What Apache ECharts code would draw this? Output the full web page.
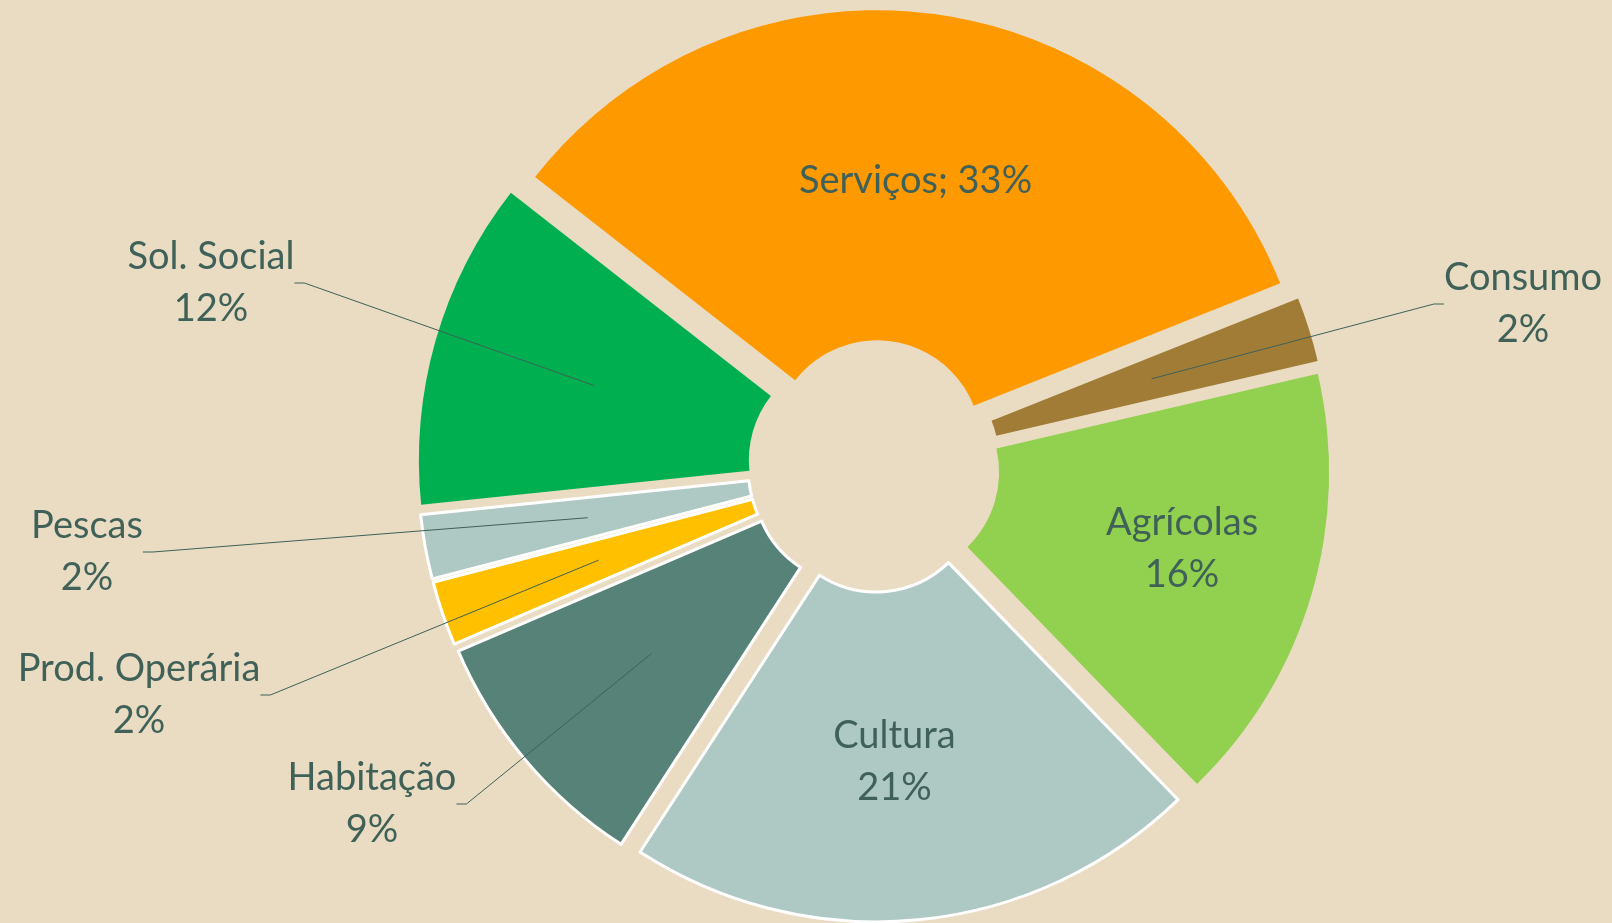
<!DOCTYPE html>
<html>
<head>
<meta charset="utf-8">
<script src="https://cdn.jsdelivr.net/npm/echarts@6/dist/echarts.min.js"></script>
<style>
  html, body { margin: 0; padding: 0; background: #EADCC2; }
  #grafico { width: 1612px; height: 923px; }
</style>
</head>
<body>
<div id="grafico"></div>
<script>
// categorias e percentagens
const categorias = ['Serviços', 'Consumo', 'Agrícolas', 'Cultura', 'Habitação', 'Prod. Operária', 'Pescas', 'Sol. Social']
const valores = [33.4, 2.4, 16.4, 21.4, 9.4, 2.4, 2.4, 12.2]
const cores = ['#FF9900', '#A17C37', '#92D050', '#AEC8C4', '#578277', '#FFC000', '#AEC8C4', '#00B050']
const bordaBranca = [false, false, false, true, true, true, true, false]
// quais rótulos ficam dentro da fatia
const rotuloDentro = [true, false, true, true, false, false, false, false]

const corTexto = '#3F6158'
const centro = [874, 466]
// posição (centro do texto) dos rótulos exteriores
const posRotulo = { 1: [1523, 304], 4: [372, 804], 5: [139, 695], 6: [87, 552], 7: [211, 283] }
// pequeno acerto dos rótulos interiores
const ajusteDentro = { 0: [0, 6], 2: [26, 0], 3: [-8, 3] }

const fonte = { fontFamily: 'Lato', fontSize: 38, lineHeight: 52, color: corTexto }

function pct(p) {
  return Math.round(p.percent) + '%'
}

let myChart = echarts.init(document.getElementById('grafico'))
myChart.setOption({
  backgroundColor: '#EADCC2',
  animation: false,
  series: [
    {
      // anel principal
      type: 'pie',
      center: centro,
      radius: [104, 434],
      startAngle: 142,
      selectedMode: 'multiple',
      selectedOffset: 22,
      avoidLabelOverlap: false,
      emphasis: { disabled: true },
      label: Object.assign({
        position: 'inside',
        formatter: function (p) {
          return p.dataIndex === 0 ? p.name + '; ' + pct(p) : p.name + '\n' + pct(p)
        }
      }, fonte),
      labelLine: { show: false },
      labelLayout: function (params) {
        let a = ajusteDentro[params.dataIndex]
        if (!a) return {}
        return { dx: a[0], dy: a[1] }
      },
      data: categorias.map(function (c, i) {
        return {
          name: c,
          value: valores[i],
          selected: true,
          itemStyle: {
            color: cores[i],
            borderColor: bordaBranca[i] ? '#FFFFFF' : 'rgba(0,0,0,0)',
            borderWidth: bordaBranca[i] ? 3 : 0
          },
          label: { show: rotuloDentro[i] }
        }
      })
    },
    {
      // anel transparente só para os rótulos exteriores (linha parte do meio da fatia)
      type: 'pie',
      center: centro,
      radius: [0, 291],
      startAngle: 142,
      avoidLabelOverlap: false,
      silent: true,
      z: 3,
      itemStyle: { color: 'rgba(0,0,0,0)' },
      label: Object.assign({
        position: 'outside',
        formatter: function (p) { return p.name + '\n' + pct(p) }
      }, fonte),
      labelLine: { show: true, length: 10, length2: 10, lineStyle: { color: corTexto, width: 1 } },
      labelLayout: function (params) {
        let p = posRotulo[params.dataIndex]
        if (!p) return {}
        return { x: p[0], y: p[1], align: 'center', verticalAlign: 'middle' }
      },
      data: categorias.map(function (c, i) {
        return {
          name: c,
          value: valores[i],
          label: { show: !rotuloDentro[i] },
          labelLine: { show: !rotuloDentro[i] }
        }
      })
    }
  ]
})
</script>
</body>
</html>
